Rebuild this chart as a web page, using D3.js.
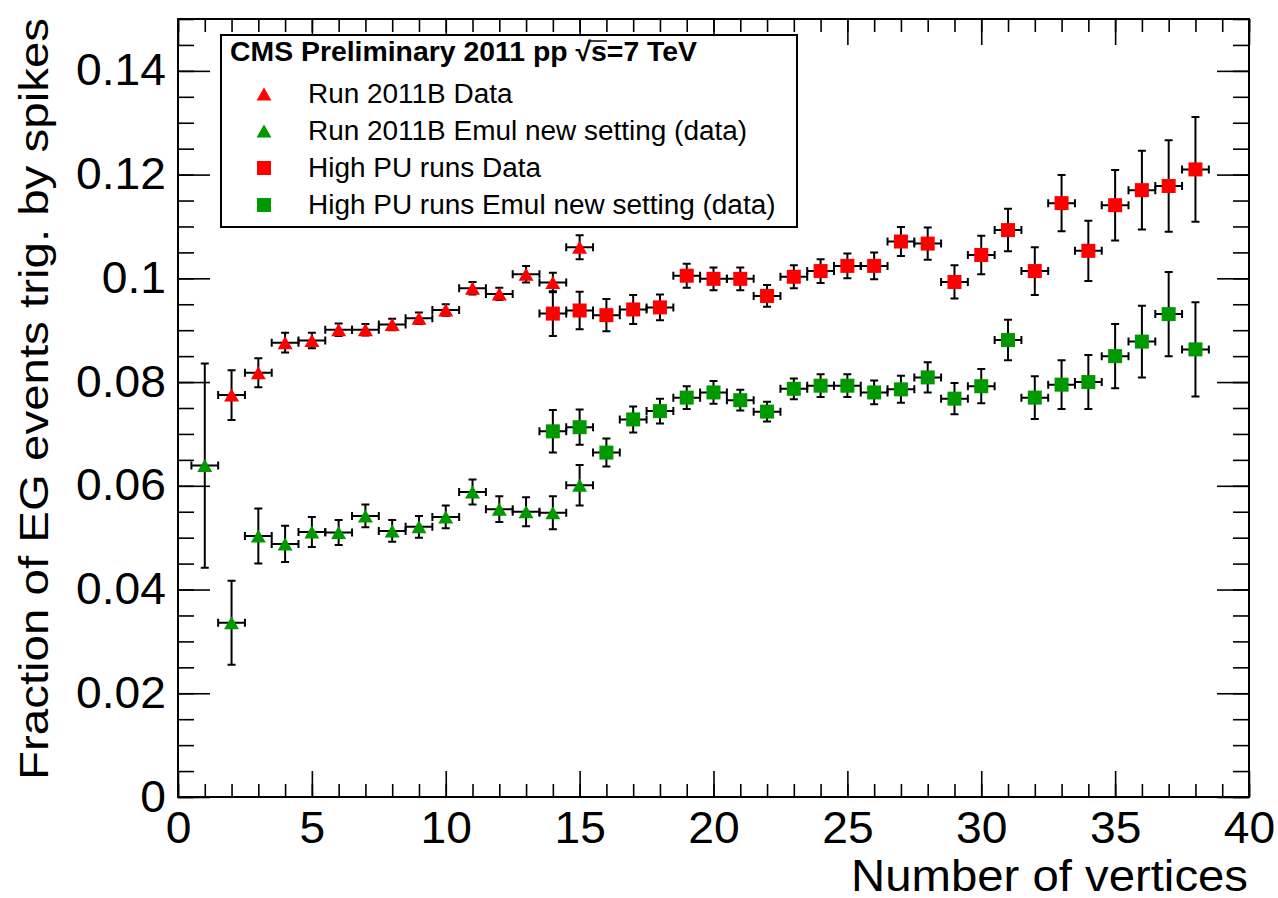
<!doctype html>
<html lang="en">
<head>
<meta charset="utf-8">
<title>Fraction of EG events triggered by spikes</title>
<style>
body { margin: 0; background: #fff; }
svg { display: block; font-family: "Liberation Sans", Arial, Helvetica, sans-serif; }
</style>
</head>
<body>
<div id="chart"></div>
<script src="https://d3js.org/d3.v7.min.js"></script>
<script>
// Run 2011B, triangles
var runBDataX = [2, 3, 4, 5, 6, 7, 8, 9, 10, 11, 12, 13, 14, 15];
var runBData = [0.0775, 0.0818, 0.0876, 0.0880, 0.0901, 0.0901, 0.0911, 0.0923, 0.0939, 0.0981, 0.0970, 0.1008, 0.0992, 0.1060];
var runBDataErr = [0.0048, 0.0028, 0.0019, 0.0015, 0.0012, 0.0011, 0.0011, 0.0011, 0.0011, 0.0012, 0.0012, 0.0016, 0.0019, 0.0023];

var runBEmulX = [1, 2, 3, 4, 5, 6, 7, 8, 9, 10, 11, 12, 13, 14, 15];
var runBEmul = [0.0639, 0.0336, 0.0503, 0.0488, 0.0511, 0.0510, 0.0542, 0.0513, 0.0521, 0.0540, 0.0588, 0.0555, 0.0550, 0.0548, 0.0601];
var runBEmulErr = [0.0197, 0.0081, 0.0053, 0.0035, 0.0029, 0.0024, 0.0022, 0.0021, 0.0021, 0.0022, 0.0024, 0.0025, 0.0028, 0.0032, 0.0039];

// High PU runs, squares (x = 14 .. 38)
var highPUX = d3.range(14, 39);
var highPUData = [0.0932, 0.0938, 0.0929, 0.0940, 0.0944, 0.1005, 0.0999, 0.0999, 0.0966, 0.1003, 0.1014, 0.1024, 0.1024,
                  0.1071, 0.1067, 0.0993, 0.1045, 0.1093, 0.1014, 0.1145, 0.1053, 0.1141, 0.1170, 0.1178, 0.1210];
var highPUDataErr = [0.0043, 0.0036, 0.0031, 0.0028, 0.0025, 0.0023, 0.0022, 0.0022, 0.0021, 0.0022, 0.0023, 0.0024, 0.0026,
                     0.0028, 0.0031, 0.0032, 0.0037, 0.0041, 0.0046, 0.0054, 0.0058, 0.0068, 0.0076, 0.0088, 0.0101];
var highPUEmul = [0.0705, 0.0713, 0.0664, 0.0728, 0.0744, 0.0770, 0.0780, 0.0765, 0.0743, 0.0787, 0.0793, 0.0793, 0.0780,
                  0.0786, 0.0809, 0.0768, 0.0792, 0.0881, 0.0770, 0.0795, 0.0800, 0.0850, 0.0878, 0.0931, 0.0863];
var highPUEmulErr = [0.0041, 0.0034, 0.0027, 0.0025, 0.0024, 0.0022, 0.0022, 0.0020, 0.0019, 0.0020, 0.0022, 0.0022, 0.0023,
                     0.0026, 0.0029, 0.0030, 0.0033, 0.0039, 0.0041, 0.0047, 0.0052, 0.0062, 0.0069, 0.0081, 0.0091];

var xTickLabels = [0, 5, 10, 15, 20, 25, 30, 35, 40];
var yTickLabels = [0, 0.02, 0.04, 0.06, 0.08, 0.1, 0.12, 0.14];
var legendLabels = ["Run 2011B Data", "Run 2011B Emul new setting (data)", "High PU runs Data", "High PU runs Emul new setting (data)"];

var W = 1278, H = 898;
var frameL = 178, frameR = 1249, frameT = 19, frameB = 797;

var x = d3.scaleLinear().domain([0, 40]).range([frameL, frameR]);
var y = d3.scaleLinear().domain([0, 0.15]).range([frameB, frameT]);

var svg = d3.select("#chart").append("svg").attr("width", W).attr("height", H);

// stretch text a little, the original font is wider than Arial
function stretch(sel, k) {
    sel.each(function() {
        var w = this.getComputedTextLength();
        d3.select(this).attr("textLength", w * k).attr("lengthAdjust", "spacingAndGlyphs");
    });
}

var xMinor = d3.range(0, 41);
var yMinor = d3.range(0, 31).map(function(i) { return i * 0.005; });

function drawAxis(axis, tx, ty) {
    var g = svg.append("g").attr("transform", "translate(" + tx + "," + ty + ")").call(axis);
    g.select(".domain").remove();
    g.selectAll("line").attr("stroke", "#000").attr("stroke-width", 1.6);
    return g;
}

// minor ticks
drawAxis(d3.axisBottom(x).tickValues(xMinor).tickSizeInner(-13).tickSizeOuter(0).tickFormat(""), 0, frameB);
drawAxis(d3.axisTop(x).tickValues(xMinor).tickSizeInner(-13).tickSizeOuter(0).tickFormat(""), 0, frameT);
drawAxis(d3.axisLeft(y).tickValues(yMinor).tickSizeInner(-16).tickSizeOuter(0).tickFormat(""), frameL, 0);
drawAxis(d3.axisRight(y).tickValues(yMinor).tickSizeInner(-16).tickSizeOuter(0).tickFormat(""), frameR, 0);

// major ticks + labels
var gx = drawAxis(d3.axisBottom(x).tickValues(xTickLabels).tickSizeInner(-26).tickSizeOuter(0).tickPadding(15)
    .tickFormat(function(d) { return String(d); }), 0, frameB);
drawAxis(d3.axisTop(x).tickValues(xTickLabels).tickSizeInner(-26).tickSizeOuter(0).tickFormat(""), 0, frameT);
var gy = drawAxis(d3.axisLeft(y).tickValues(yTickLabels).tickSizeInner(-32).tickSizeOuter(0).tickPadding(12)
    .tickFormat(function(d) { return String(+d.toFixed(2)); }), frameL, 0);
drawAxis(d3.axisRight(y).tickValues(yTickLabels).tickSizeInner(-32).tickSizeOuter(0).tickFormat(""), frameR, 0);

[gx, gy].forEach(function(g) {
    g.attr("font-family", null).attr("font-size", null);
    g.selectAll("text").attr("fill", "#000").style("font-size", "44px");
    stretch(g.selectAll("text"), 1.05);
});

// frame
svg.append("rect")
    .attr("x", frameL).attr("y", frameT)
    .attr("width", frameR - frameL).attr("height", frameB - frameT)
    .attr("fill", "none").attr("stroke", "#000").attr("stroke-width", 2);

// axis titles
var xt = svg.append("text")
    .attr("x", 1248).attr("y", 891)
    .attr("text-anchor", "end")
    .style("font-size", "44px")
    .text("Number of vertices");
xt.attr("textLength", 397).attr("lengthAdjust", "spacingAndGlyphs");

var yt = svg.append("text")
    .attr("transform", "translate(48,780) rotate(-90)")
    .attr("text-anchor", "start")
    .style("font-size", "41px")
    .text("Fraction of EG events trig. by spikes");
yt.attr("textLength", 762).attr("lengthAdjust", "spacingAndGlyphs");

// markers
var triPath = "M-7.5,6.5L7.5,6.5L0,-6.5Z";
function marker(g, shape, color, cx, cy) {
    if (shape === "tri") {
        g.append("path").attr("d", triPath)
            .attr("transform", "translate(" + cx + "," + cy + ")")
            .attr("fill", color);
    } else {
        g.append("rect").attr("x", cx - 7).attr("y", cy - 7)
            .attr("width", 14).attr("height", 14)
            .attr("fill", color);
    }
}

function drawSeries(xs, vals, errs, shape, color) {
    var g = svg.append("g");
    var bars = g.append("g").attr("stroke", "#000").attr("stroke-width", 2).attr("fill", "none");
    xs.forEach(function(xv, i) {
        var cx = x(xv), cy = y(vals[i]);
        var x0 = x(xv - 0.5), x1 = x(xv + 0.5);
        var y0 = y(vals[i] - errs[i]), y1 = y(vals[i] + errs[i]);
        var path = d3.path();
        path.moveTo(x0, cy); path.lineTo(x1, cy);
        path.moveTo(x0, cy - 4); path.lineTo(x0, cy + 4);
        path.moveTo(x1, cy - 4); path.lineTo(x1, cy + 4);
        path.moveTo(cx, y0); path.lineTo(cx, y1);
        path.moveTo(cx - 4, y0); path.lineTo(cx + 4, y0);
        path.moveTo(cx - 4, y1); path.lineTo(cx + 4, y1);
        bars.append("path").attr("d", path.toString());
    });
    xs.forEach(function(xv, i) {
        marker(g, shape, color, x(xv), y(vals[i]));
    });
}

var red = "#ff0000", green = "#009900";
drawSeries(runBDataX, runBData, runBDataErr, "tri", red);
drawSeries(runBEmulX, runBEmul, runBEmulErr, "tri", green);
drawSeries(highPUX, highPUData, highPUDataErr, "sq", red);
drawSeries(highPUX, highPUEmul, highPUEmulErr, "sq", green);

// legend
var leg = svg.append("g");
leg.append("rect")
    .attr("x", 221).attr("y", 35).attr("width", 576).attr("height", 192)
    .attr("fill", "#fff").attr("stroke", "#000").attr("stroke-width", 2);

var header = leg.append("text")
    .attr("x", 230).attr("y", 61)
    .style("font-size", "27px").style("font-weight", "bold")
    .text("CMS Preliminary 2011 pp \u221As=7 TeV");
header.attr("textLength", 467).attr("lengthAdjust", "spacingAndGlyphs");
// bar over the s of sqrt(s)
(function() {
    var node = header.node();
    var idx = node.textContent.indexOf("\u221A");
    var r1 = node.getExtentOfChar(idx), r2 = node.getExtentOfChar(idx + 1);
    leg.append("line")
        .attr("x1", r1.x + r1.width - 1).attr("x2", r2.x + r2.width)
        .attr("y1", r1.y + 4).attr("y2", r1.y + 4)
        .attr("stroke", "#000").attr("stroke-width", 1.5);
})();

var legShapes = ["tri", "tri", "sq", "sq"];
var legColors = [red, green, red, green];
legendLabels.forEach(function(label, i) {
    var cy = 94 + i * 37;
    marker(leg, legShapes[i], legColors[i], 264, cy);
    var t = leg.append("text")
        .attr("x", 308).attr("y", cy + 9)
        .style("font-size", "27px")
        .text(label);
    stretch(t, 1.035);
});
</script>
</body>
</html>
